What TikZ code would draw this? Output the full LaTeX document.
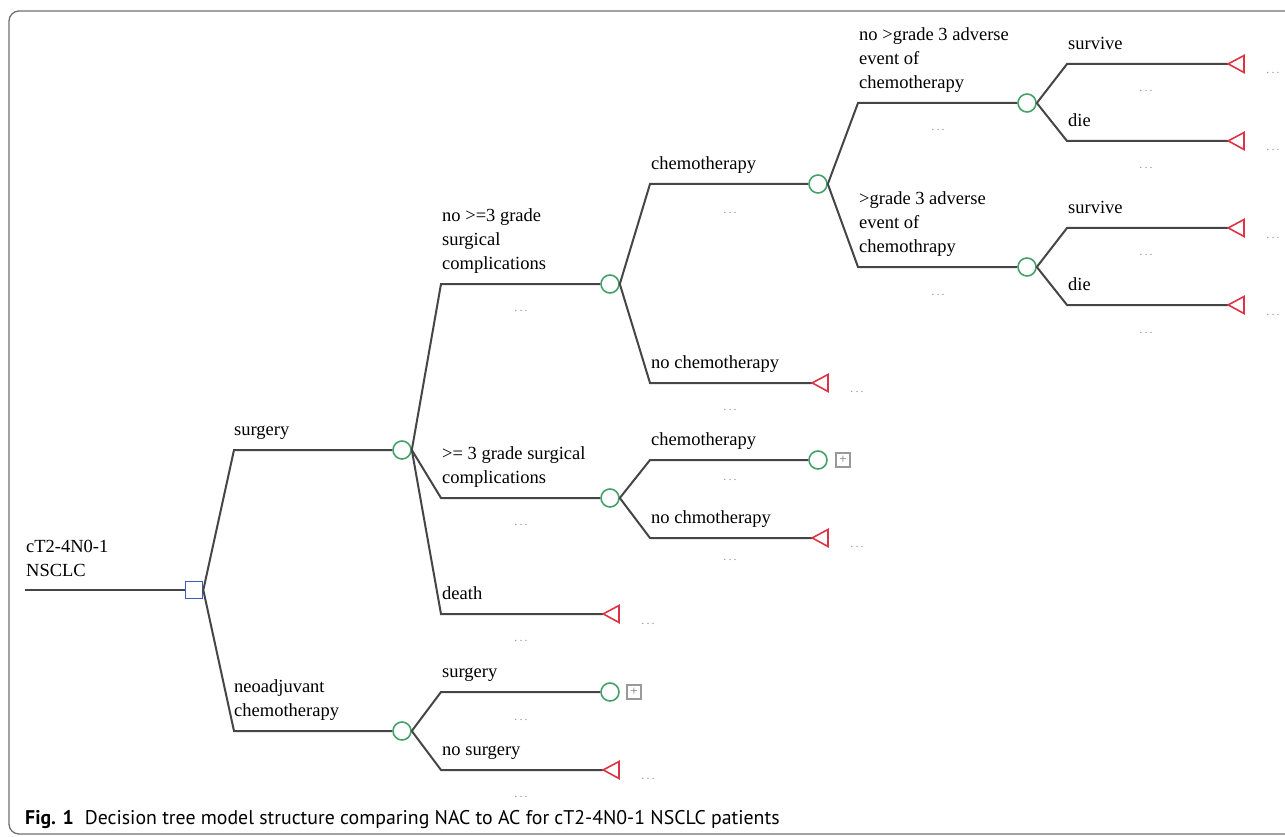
\documentclass[tikz,border=0pt]{standalone}
\usepackage{fontspec}
\setmainfont{Liberation Serif}
\newfontfamily\capfont{PT Sans}
\definecolor{lnc}{HTML}{454545}
\definecolor{chg}{HTML}{45A06A}
\definecolor{trr}{HTML}{DD3344}
\definecolor{dbl}{HTML}{3A5CC4}
\definecolor{frm}{HTML}{707070}
\newcommand{\mydots}{.\kern2.2pt.\kern2.2pt.}
\tikzset{
  branch/.style={draw=lnc, line width=2pt, line join=miter},
  chance/.style={circle, draw=chg, line width=1.6pt, minimum size=18pt, inner sep=0pt, fill=white},
  decision/.style={rectangle, draw=dbl, line width=1.6pt, minimum size=17pt, inner sep=0pt, fill=white},
  termtri/.style={draw=trr, line width=1.6pt, line join=miter},
  tip/.style={inner sep=0pt, minimum size=0pt},
  plusbox/.style={rectangle, draw=gray!80, line width=1.2pt, minimum size=14pt, inner sep=0pt, font=\fontsize{13}{13}\selectfont, text=gray!90!black},
  lbl/.style={anchor=south west, inner sep=0pt, text depth=0pt, align=left, font=\fontsize{18.5}{24}\selectfont},
  dots/.style={anchor=base, inner sep=0pt, text=gray!85, font=\fontsize{12}{12}\selectfont}
}
\begin{document}
\begin{tikzpicture}[x=1pt,y=-1pt]
\useasboundingbox (0,0) rectangle (1285,837);
\draw[frm, line width=1.3pt, rounded corners=10pt] (9,11) rectangle (1310,834);

% nodes
\coordinate (R0) at (25,590);
\node[decision] (D) at (194,590) {};
\node[chance] (C1) at (402,450) {};
\node[chance] (C2) at (402,731) {};
\node[chance] (C3) at (610,284) {};
\node[chance] (C4) at (610,498) {};
\node[chance] (C5) at (818,184) {};
\node[chance] (C6) at (1027,103) {};
\node[chance] (C7) at (1027,267) {};
\node[chance] (C8) at (818,460) {};
\node[chance] (C9) at (610,692) {};
\node[plusbox] (P1) at (843,460) {+};
\node[plusbox] (P2) at (634,692) {+};
\node[tip] (T1) at (603,614) {};
\node[tip] (T2) at (812,383) {};
\node[tip] (T3) at (1228,64) {};
\node[tip] (T4) at (1228,141) {};
\node[tip] (T5) at (1228,228) {};
\node[tip] (T6) at (1228,305) {};
\node[tip] (T7) at (812,538) {};
\node[tip] (T8) at (603,770) {};

% corners
\coordinate (kA) at (234,450);
\coordinate (kB) at (234,731);
\coordinate (kC) at (441,284);
\coordinate (kD) at (441,498);
\coordinate (kE) at (441,614);
\coordinate (kF) at (650,184);
\coordinate (kG) at (650,383);
\coordinate (kH) at (858,103);
\coordinate (kI) at (858,267);
\coordinate (kJ) at (1067,64);
\coordinate (kK) at (1067,141);
\coordinate (kL) at (1067,228);
\coordinate (kM) at (1067,305);
\coordinate (kN) at (650,460);
\coordinate (kO) at (650,538);
\coordinate (kP) at (441,692);
\coordinate (kQ) at (441,770);

% connectors
\draw[branch] (R0) -- (D.west);
\draw[branch] (D.east) -- (kA) -- (C1.west);
\draw[branch] (D.east) -- (kB) -- (C2.west);
\draw[branch] (C1.east) -- (kC) -- (C3.west);
\draw[branch] (C1.east) -- (kD) -- (C4.west);
\draw[branch] (C1.east) -- (kE) -- (T1);
\draw[branch] (C3.east) -- (kF) -- (C5.west);
\draw[branch] (C3.east) -- (kG) -- (T2);
\draw[branch] (C5.east) -- (kH) -- (C6.west);
\draw[branch] (C5.east) -- (kI) -- (C7.west);
\draw[branch] (C6.east) -- (kJ) -- (T3);
\draw[branch] (C6.east) -- (kK) -- (T4);
\draw[branch] (C7.east) -- (kL) -- (T5);
\draw[branch] (C7.east) -- (kM) -- (T6);
\draw[branch] (C4.east) -- (kN) -- (C8.west);
\draw[branch] (C4.east) -- (kO) -- (T7);
\draw[branch] (C2.east) -- (kP) -- (C9.west);
\draw[branch] (C2.east) -- (kQ) -- (T8);

% terminal triangles
\foreach \t in {T1,T2,T3,T4,T5,T6,T7,T8}{
  \draw[termtri] (\t) -- ++(16,-8.5) -- ++(0,17) -- cycle;
}

% labels
\node[lbl] (Lroot) at (26,577) {cT2-4N0-1\\NSCLC};
\node[lbl] (LA) at (234,436) {surgery};
\node[lbl] (LB) at (234,717) {neoadjuvant\\chemotherapy};
\node[lbl] (LC) at (442,270) {no >=3 grade\\surgical\\complications};
\node[lbl] (LD) at (442,484) {>= 3 grade surgical\\complications};
\node[lbl] (LE) at (442,600) {death};
\node[lbl] (LF) at (651,170) {chemotherapy};
\node[lbl] (LG) at (651,369) {no chemotherapy};
\node[lbl] (LH) at (859,89) {no >grade 3 adverse\\event of\\chemotherapy};
\node[lbl] (LI) at (859,253) {>grade 3 adverse\\event of\\chemothrapy};
\node[lbl] (LJ) at (1068,50) {survive};
\node[lbl] (LK) at (1068,127) {die};
\node[lbl] (LL) at (1068,214) {survive};
\node[lbl] (LM) at (1068,291) {die};
\node[lbl] (LN) at (651,446) {chemotherapy};
\node[lbl] (LO) at (651,524) {no chmotherapy};
\node[lbl] (LP) at (442,678) {surgery};
\node[lbl] (LQ) at (442,756) {no surgery};

% dots under branches
\node[dots] (dC) at (521,311) {\mydots};
\node[dots] (dD) at (521,525) {\mydots};
\node[dots] (dE) at (521,641) {\mydots};
\node[dots] (dF) at (730,214) {\mydots};
\node[dots] (dG) at (730,410) {\mydots};
\node[dots] (dH) at (938,131) {\mydots};
\node[dots] (dI) at (938,295) {\mydots};
\node[dots] (dJ) at (1146,92) {\mydots};
\node[dots] (dK) at (1146,169) {\mydots};
\node[dots] (dL) at (1146,255) {\mydots};
\node[dots] (dM) at (1146,333) {\mydots};
\node[dots] (dN) at (730,480) {\mydots};
\node[dots] (dO) at (730,560) {\mydots};
\node[dots] (dP) at (521,720) {\mydots};
\node[dots] (dQ) at (521,797) {\mydots};
% dots after terminals
\node[dots] (eT1) at (648,624) {\mydots};
\node[dots] (eT2) at (857,392) {\mydots};
\node[dots] (eT3) at (1273,74) {\mydots};
\node[dots] (eT4) at (1273,151) {\mydots};
\node[dots] (eT5) at (1273,238) {\mydots};
\node[dots] (eT6) at (1273,315) {\mydots};
\node[dots] (eT7) at (857,547) {\mydots};
\node[dots] (eT8) at (648,779) {\mydots};

% caption
\node[anchor=base west, inner sep=0pt, font=\capfont\fontsize{19.8}{20}\selectfont] (cap) at (25,824)
  {\textbf{Fig. 1}\hspace{0.55em}Decision tree model structure comparing NAC to AC for cT2-4N0-1 NSCLC patients};
\end{tikzpicture}
\end{document}
